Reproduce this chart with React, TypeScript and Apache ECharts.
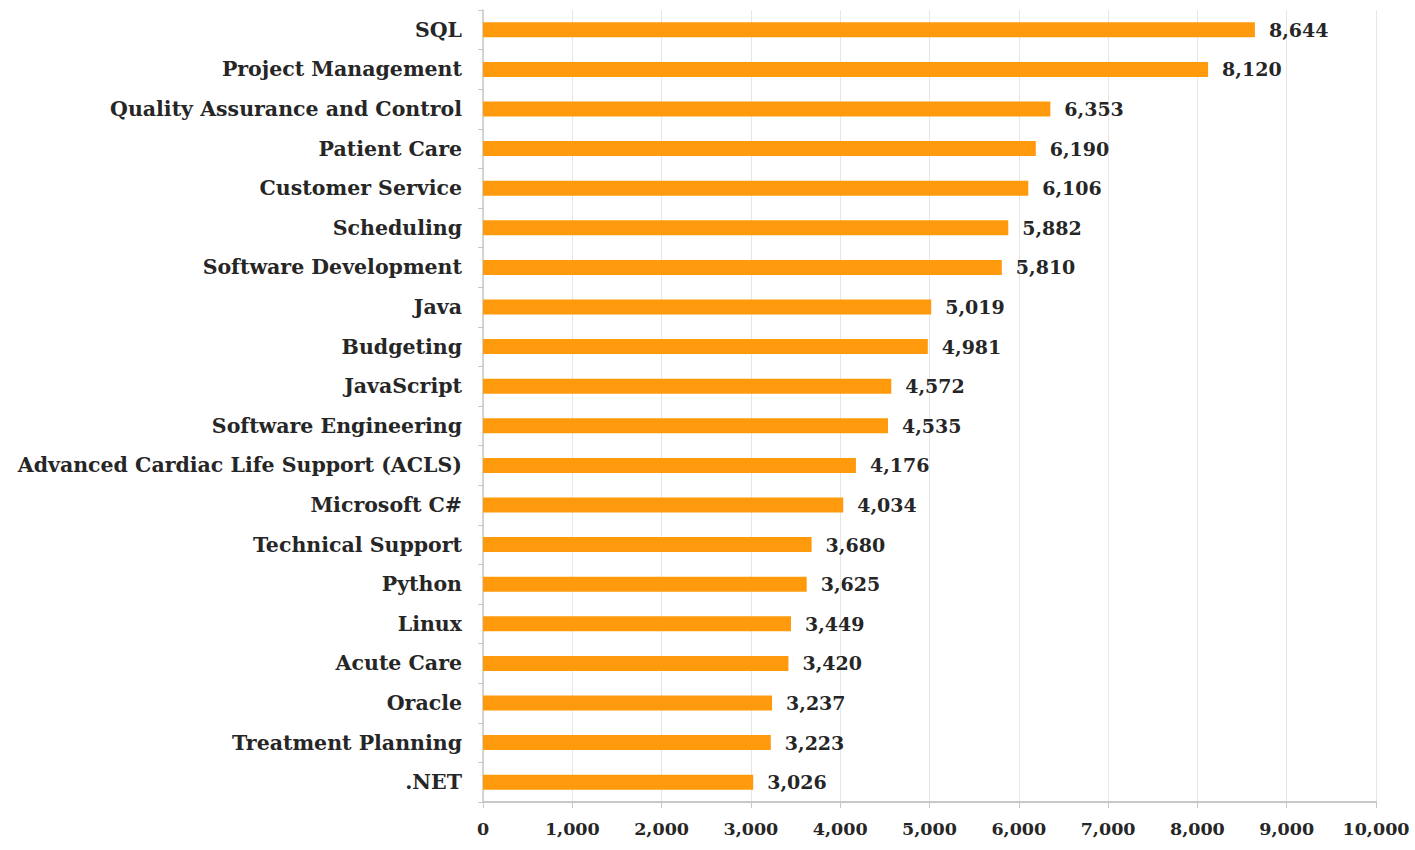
import React, { useEffect, useRef } from "react";
import * as echarts from "echarts";

const categories = [
  "SQL",
  "Project Management",
  "Quality Assurance and Control",
  "Patient Care",
  "Customer Service",
  "Scheduling",
  "Software Development",
  "Java",
  "Budgeting",
  "JavaScript",
  "Software Engineering",
  "Advanced Cardiac Life Support (ACLS)",
  "Microsoft C#",
  "Technical Support",
  "Python",
  "Linux",
  "Acute Care",
  "Oracle",
  "Treatment Planning",
  ".NET",
];

const values = [
  8644, 8120, 6353, 6190, 6106, 5882, 5810, 5019, 4981, 4572, 4535, 4176, 4034,
  3680, 3625, 3449, 3420, 3237, 3223, 3026,
];

const xMin = 0;
const xMax = 10000;
const xInterval = 1000;

const fontFamily = "'DejaVu Serif', 'Liberation Serif', serif";

function fmt(v: number): string {
  return v.toLocaleString("en-US");
}

export default function App() {
  const ref = useRef<HTMLDivElement>(null);
  useEffect(() => {
    if (!ref.current) return;
    const chart = echarts.init(ref.current, null, { renderer: "svg" });
    chart.setOption({
      animation: false,
      grid: { left: 483, right: 39, top: 10, bottom: 48, containLabel: false },
      xAxis: {
        type: "value",
        min: xMin,
        max: xMax,
        interval: xInterval,
        axisLine: { show: true, lineStyle: { color: "#c8c8c8", width: 2 } },
        axisTick: { show: true, length: 6, lineStyle: { color: "#c8c8c8" } },
        splitLine: { show: true, lineStyle: { color: "#e6e6e6", width: 1 } },
        axisLabel: {
          formatter: (v: number) => fmt(v),
          fontFamily,
          fontWeight: "bold",
          fontSize: 17.5,
          color: "#262626",
          margin: 18,
        },
      },
      yAxis: {
        type: "category",
        data: categories,
        inverse: true,
        axisLine: { show: true, lineStyle: { color: "#c8c8c8", width: 1.5 } },
        axisTick: { show: true, length: 5, inside: false, lineStyle: { color: "#c8c8c8" } },
        splitLine: { show: false },
        axisLabel: {
          fontFamily,
          fontWeight: "bold",
          fontSize: 20.5,
          color: "#262626",
          margin: 21,
        },
      },
      series: [
        {
          type: "bar",
          data: values,
          barWidth: 15,
          itemStyle: { color: "#FF9A0D" },
          label: {
            show: true,
            position: "right",
            distance: 14,
            formatter: (p: any) => fmt(p.value),
            fontFamily,
            fontWeight: "bold",
            fontSize: 19,
            color: "#262626",
          },
        },
      ],
    });
    return () => chart.dispose();
  }, []);
  return <div ref={ref} style={{ width: 1415, height: 850, position: "absolute", left: 0, top: 0 }} />;
}
